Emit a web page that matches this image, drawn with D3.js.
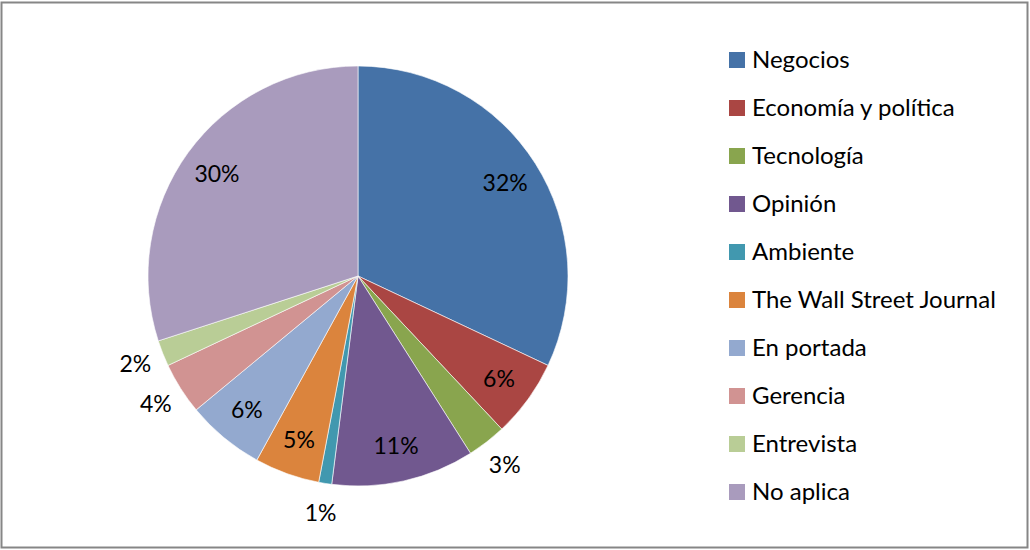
<!DOCTYPE html>
<html>
<head>
<meta charset="utf-8">
<script src="https://cdn.jsdelivr.net/npm/d3@7"></script>
<style>
  body { margin: 0; background: #fff; }
  text { font-family: Lato, "Open Sans", sans-serif; fill: #000; }
</style>
</head>
<body>
<svg id="chart" width="1030" height="550"></svg>
<script>
// Data
const categories = ["Negocios", "Economía y política", "Tecnología", "Opinión", "Ambiente",
    "The Wall Street Journal", "En portada", "Gerencia", "Entrevista", "No aplica"];
const values = [32, 6, 3, 11, 1, 5, 6, 4, 2, 30];
const colors = ["#4572A7", "#AA4643", "#89A54E", "#71588F", "#4198AF",
    "#DB843D", "#93A9CF", "#D19392", "#B9CD96", "#A99BBD"];

const width = 1030;
const height = 550;
const cx = 358, cy = 276, radius = 210;

const svg = d3.select("#chart");

// outer frame
svg.append("rect")
    .attr("x", 1.5).attr("y", 2.5)
    .attr("width", width - 4).attr("height", height - 5)
    .attr("fill", "#fff")
    .attr("stroke", "#868686")
    .attr("stroke-width", 2);

const pie = d3.pie().sort(null).value(d => d);
const arcs = pie(values);

const arc = d3.arc().innerRadius(0).outerRadius(radius);
const inLabel = d3.arc().innerRadius(radius * 0.83).outerRadius(radius * 0.83);
const outLabel = d3.arc().innerRadius(radius * 1.14).outerRadius(radius * 1.14);

const g = svg.append("g").attr("transform", `translate(${cx},${cy})`);

g.selectAll("path")
    .data(arcs)
    .enter().append("path")
    .attr("d", arc)
    .attr("fill", (d, i) => colors[i])
    .attr("stroke", "#fff")
    .attr("stroke-width", 0.6);

const total = d3.sum(values);
g.selectAll("text.lbl")
    .data(arcs)
    .enter().append("text")
    .attr("class", "lbl")
    .attr("transform", d => `translate(${(d.value < 5 ? outLabel : inLabel).centroid(d)})`)
    .attr("text-anchor", "middle")
    .attr("dy", "0.35em")
    .style("font-size", "23px")
    .text(d => Math.round(d.value / total * 100) + "%");

// Legend
const legend = svg.append("g").attr("transform", "translate(729,60)");
const rows = legend.selectAll("g")
    .data(categories)
    .enter().append("g")
    .attr("transform", (d, i) => `translate(0,${i * 48})`);

rows.append("rect")
    .attr("x", 0).attr("y", -8)
    .attr("width", 16).attr("height", 16)
    .attr("fill", (d, i) => colors[i]);

rows.append("text")
    .attr("x", 23)
    .attr("dy", "0.35em")
    .style("font-size", "24px")
    .text(d => d);
</script>
</body>
</html>
